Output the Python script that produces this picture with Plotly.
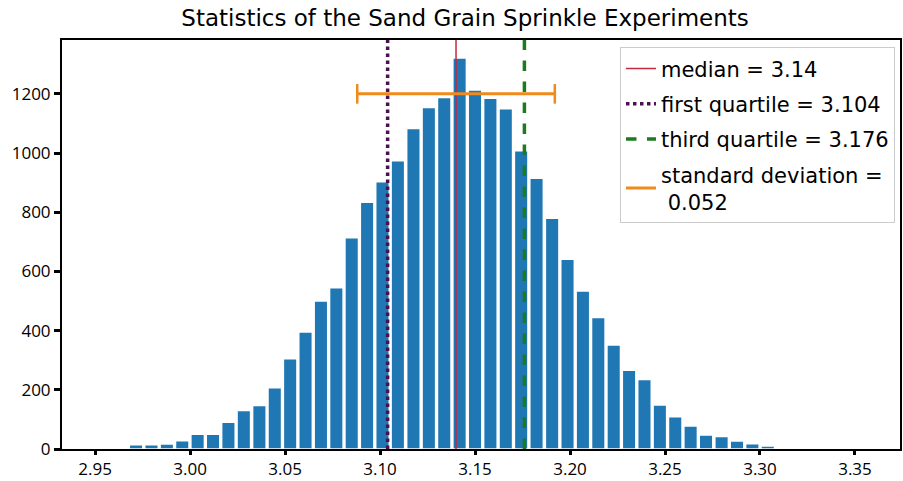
import plotly.graph_objects as go

# Histogram bins (centers) and counts
bin_centers = [2.9554, 2.9635, 2.9716, 2.9797, 2.9878, 2.9959, 3.0040, 3.0121, 3.0202, 3.0283,
               3.0365, 3.0446, 3.0527, 3.0608, 3.0689, 3.0770, 3.0851, 3.0932, 3.1013, 3.1094,
               3.1176, 3.1257, 3.1338, 3.1419, 3.1500, 3.1581, 3.1662, 3.1743, 3.1824, 3.1906,
               3.1987, 3.2068, 3.2149, 3.2230, 3.2311, 3.2392, 3.2473, 3.2554, 3.2635, 3.2716,
               3.2798, 3.2879, 3.2960, 3.3041]
counts = [3, 0, 14, 14, 17, 28, 50, 50, 90, 130,
          147, 207, 305, 395, 500, 545, 714, 834, 903, 974,
          1083, 1154, 1188, 1321, 1213, 1185, 1150, 1008, 915, 780,
          641, 534, 444, 351, 266, 235, 149, 109, 78, 47,
          42, 27, 18, 10]

median = 3.14
q1 = 3.104
q3 = 3.176
std = 0.052
std_y = 1200

x_range = [2.9326, 3.3737]
y_range = [0, 1382]
x_ticks = [2.95, 3.00, 3.05, 3.10, 3.15, 3.20, 3.25, 3.30, 3.35]
y_ticks = [0, 200, 400, 600, 800, 1000, 1200]

FONT = "Open Sans"
TEXT_FONT = "DejaVu Sans"
ORANGE = "#f08a1a"

fig = go.Figure()

fig.add_trace(go.Bar(
    x=bin_centers, y=counts, showlegend=False,
    marker=dict(color="#1f77b4", line=dict(color="white", width=1.5)),
))

fig.add_trace(go.Scatter(
    x=[median, median], y=y_range, mode="lines",
    name=f"median = {median}", legendgroup="a",
    line=dict(color="#c8283c", width=1.5),
))
fig.add_trace(go.Scatter(
    x=[q1, q1], y=y_range, mode="lines",
    name=f"first quartile = {q1}", legendgroup="b",
    line=dict(color="#4b1050", width=3.5, dash="dot"),
))
fig.add_trace(go.Scatter(
    x=[q3, q3], y=y_range, mode="lines",
    name=f"third quartile = {q3}", legendgroup="c",
    line=dict(color="#1e7a1e", width=3.5, dash="dash"),
))
fig.add_trace(go.Scatter(
    x=[median - std, median + std], y=[std_y, std_y], mode="lines",
    name=f"standard deviation =<br> {std}", legendgroup="d",
    line=dict(color=ORANGE, width=3),
))
fig.add_trace(go.Scatter(
    x=[median - std, median + std], y=[std_y, std_y], mode="markers",
    showlegend=False, legendgroup="d", hoverinfo="skip",
    marker=dict(symbol="line-ns", size=14, line=dict(color=ORANGE, width=2.5), color=ORANGE),
))

fig.update_layout(
    width=903, height=481,
    margin=dict(l=62, r=3, t=40, b=32),
    paper_bgcolor="white", plot_bgcolor="white",
    font=dict(family=FONT, color="black", size=17),
    bargap=0.12,
    title=dict(text="Statistics of the Sand Grain Sprinkle Experiments",
               x=0.515, xanchor="center", y=0.962, yanchor="middle",
               font=dict(family=TEXT_FONT, size=23, color="black")),
    legend=dict(
        x=0.994, xanchor="right", y=0.982, yanchor="top",
        bgcolor="white", bordercolor="#cccccc", borderwidth=1,
        font=dict(family=TEXT_FONT, size=21, color="black"),
        traceorder="grouped", tracegroupgap=5,
    ),
    xaxis=dict(range=x_range, tickvals=x_ticks, tickformat=".2f",
               showgrid=False, zeroline=False, automargin=False,
               showline=True, linecolor="black", linewidth=2, mirror=True,
               ticks="outside", ticklen=4, tickwidth=2.5, tickcolor="black",
               tickfont=dict(size=17)),
    yaxis=dict(range=y_range, tickvals=y_ticks,
               showgrid=False, zeroline=False, automargin=False,
               showline=True, linecolor="black", linewidth=2, mirror=True,
               ticks="outside", ticklen=6, tickwidth=2.5, tickcolor="black",
               tickfont=dict(size=17)),
)

fig.write_html("out.html")
